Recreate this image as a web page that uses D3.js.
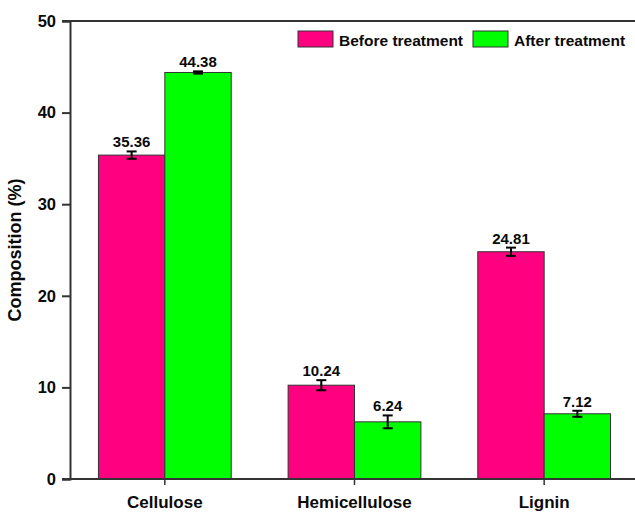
<!DOCTYPE html>
<html>
<head>
<meta charset="utf-8">
<script src="https://cdn.jsdelivr.net/npm/d3@7"></script>
<style>
  html, body { margin: 0; padding: 0; background: #fff; }
  svg { display: block; font-family: "Liberation Sans", Arial, sans-serif; }
</style>
</head>
<body>
<svg id="chart" width="635" height="512"></svg>
<script>
// Composition of the biomass before and after treatment
const categories = ["Cellulose", "Hemicellulose", "Lignin"];
const seriesNames = ["Before treatment", "After treatment"];
const beforeValues = [35.36, 10.24, 24.81];
const afterValues = [44.38, 6.24, 7.12];
const beforeErrors = [0.4, 0.55, 0.45];
const afterErrors = [0.12, 0.7, 0.33];
const yTicks = [0, 10, 20, 30, 40, 50];
const colors = ["#FF0080", "#00FF00"];

const svg = d3.select("#chart");
const margin = { left: 70, top: 21, bottom: 479, right: 639 };
const axisColor = "#333";
const textColor = "#0a0a0a";

const x = d3.scaleBand().domain(categories).range([margin.left, margin.right]).padding(0);
const y = d3.scaleLinear().domain([0, 50]).range([margin.bottom, margin.top]);

const series = [
  { name: seriesNames[0], values: beforeValues, errors: beforeErrors, color: colors[0] },
  { name: seriesNames[1], values: afterValues, errors: afterErrors, color: colors[1] }
];

const barW = x.bandwidth() * 0.35;

const rows = [];
series.forEach((s, si) => {
  categories.forEach((c, ci) => {
    rows.push({ c, si, v: s.values[ci], e: s.errors[ci], color: s.color });
  });
});
const barX = d => x(d.c) + x.bandwidth() / 2 + (d.si === 0 ? -barW : 0);

// bars
svg.append("g").selectAll("rect").data(rows).join("rect")
  .attr("x", barX)
  .attr("y", d => y(d.v))
  .attr("width", barW)
  .attr("height", d => y(0) - y(d.v))
  .attr("fill", d => d.color)
  .attr("stroke", "#333")
  .attr("stroke-width", 1);

// error bars
const eb = svg.append("g").attr("stroke", "#000").attr("stroke-width", 2);
rows.forEach(d => {
  const cx = barX(d) + barW / 2;
  const y1 = y(d.v + d.e), y2 = y(d.v - d.e);
  eb.append("line").attr("x1", cx).attr("x2", cx).attr("y1", y1).attr("y2", y2);
  eb.append("line").attr("x1", cx - 5).attr("x2", cx + 5).attr("y1", y1).attr("y2", y1);
  eb.append("line").attr("x1", cx - 5).attr("x2", cx + 5).attr("y1", y2).attr("y2", y2);
});

// value labels
svg.append("g").selectAll("text").data(rows).join("text")
  .attr("x", d => barX(d) + barW / 2)
  .attr("y", d => y(d.v + d.e) - 4)
  .attr("text-anchor", "middle")
  .attr("font-size", 15)
  .attr("font-weight", "bold")
  .attr("fill", textColor)
  .text(d => d.v.toFixed(2));

// y axis
const yAxis = svg.append("g")
  .attr("transform", `translate(${margin.left},0)`)
  .call(d3.axisLeft(y).tickValues(yTicks).tickSize(8).tickPadding(6).tickFormat(d3.format("d")));
yAxis.select(".domain").attr("stroke", axisColor).attr("stroke-width", 2);
yAxis.selectAll(".tick line").attr("stroke", axisColor).attr("stroke-width", 2);
yAxis.selectAll("text").attr("font-size", 16.5).attr("font-weight", "bold").attr("fill", textColor)
  .attr("font-family", "Liberation Sans, Arial, sans-serif");

// x axis
const xAxis = svg.append("g")
  .attr("transform", `translate(0,${margin.bottom})`)
  .call(d3.axisBottom(x).tickSize(6).tickPadding(11).tickSizeOuter(0));
xAxis.select(".domain").attr("stroke", axisColor).attr("stroke-width", 2)
  .attr("d", `M${margin.left - 8},0H${margin.right}`);
xAxis.selectAll(".tick line").attr("stroke", axisColor).attr("stroke-width", 1.5);
xAxis.selectAll("text").attr("font-size", 17).attr("font-weight", "bold").attr("fill", textColor)
  .attr("font-family", "Liberation Sans, Arial, sans-serif");

// top frame line
svg.append("line")
  .attr("x1", margin.left - 8).attr("x2", margin.right)
  .attr("y1", y(50)).attr("y2", y(50))
  .attr("stroke", axisColor).attr("stroke-width", 2);

// y axis title
svg.append("text")
  .attr("transform", `translate(21,${(margin.top + margin.bottom) / 2}) rotate(-90)`)
  .attr("text-anchor", "middle")
  .attr("font-size", 18)
  .attr("font-weight", "bold")
  .attr("fill", textColor)
  .text("Composition (%)");

// legend
const legendX = [298, 473];
const legend = svg.append("g");
series.forEach((s, i) => {
  legend.append("rect")
    .attr("x", legendX[i]).attr("y", 31).attr("width", 35).attr("height", 16)
    .attr("fill", s.color).attr("stroke", "#333").attr("stroke-width", 1);
  legend.append("text")
    .attr("x", legendX[i] + 41).attr("y", 45.5)
    .attr("font-size", 15.5).attr("font-weight", "bold").attr("fill", textColor)
    .text(s.name);
});
</script>
</body>
</html>
